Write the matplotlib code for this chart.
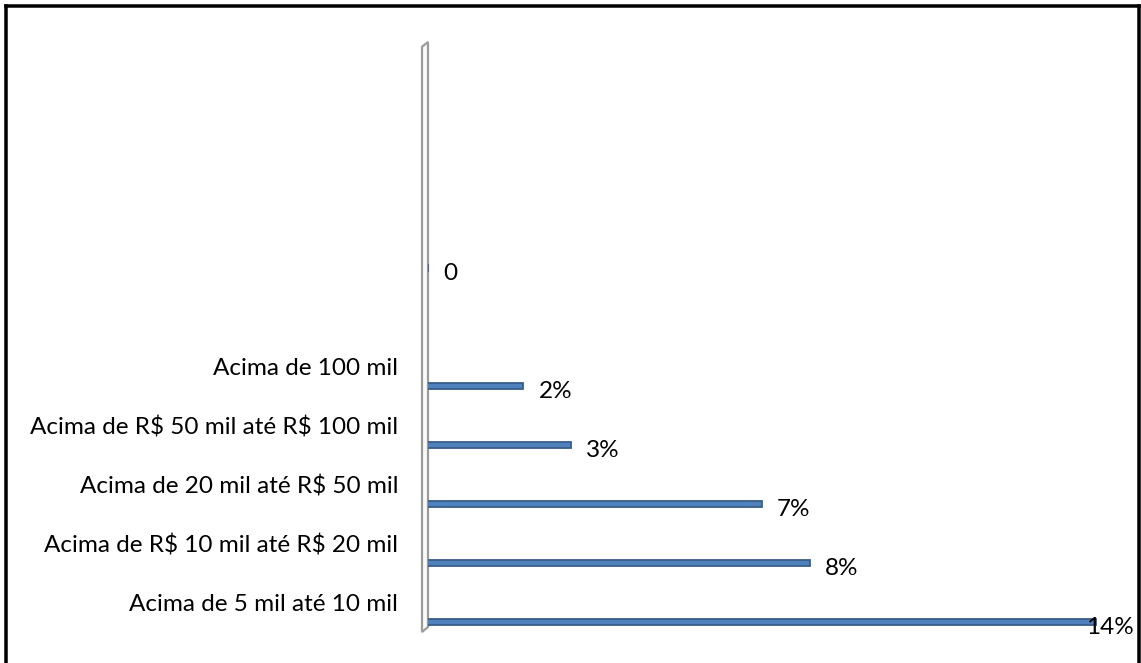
import numpy as np
import matplotlib
matplotlib.use("Agg")
import matplotlib.pyplot as plt
from matplotlib.patches import Polygon

# faixas de faturamento (de baixo para cima) e percentuais
categorias = ["Acima de 5 mil até 10 mil",
              "Acima de R$ 10 mil até R$ 20 mil",
              "Acima de 20 mil até R$ 50 mil",
              "Acima de R$ 50 mil até R$ 100 mil",
              "Acima de 100 mil",
              "",
              ""]
valores = [14, 8, 7, 3, 2, np.nan, 0]
rotulos = ["14%", "8%", "7%", "3%", "2%", "", "0"]

plt.rcParams["font.family"] = ["Lato", "DejaVu Sans"]
fs = 17.5

W, H = 1141, 663
fig = plt.figure(figsize=(W / 100, H / 100), dpi=100)

# escala: 47.7 px por ponto percentual, categorias a cada 59 px
px_x = 47.7
px_y = 59.0
x0 = 428
y0 = 622  # centro da primeira barra (pixels a partir do topo)
xmax = (1135 - x0) / px_x
ymin, ymax = -0.2, 9.85
bottom_px = y0 - ymin * px_y
top_px = y0 - ymax * px_y
ax = fig.add_axes([x0 / W, (H - bottom_px) / H, (1135 - x0) / W, (bottom_px - top_px) / H])
ax.set_xlim(0, xmax)
ax.set_ylim(ymin, ymax)
ax.axis("off")

# barras com pequena profundidade à esquerda (efeito 3D), terminando no valor
prof = 3 / px_x
pos = np.arange(len(categorias))
ax.barh(pos, np.array(valores) + prof, left=-prof, height=0.11, color="#4F81BD",
        edgecolor="#385D8A", linewidth=1.3, zorder=2)

# parede lateral do eixo
dx = 6 / px_x
wall = Polygon([(-dx, ymin + 0.03), (0, ymin + 0.115), (0, ymax - 0.02), (-dx, ymax - 0.1)],
               closed=True, facecolor="#FAFAFA", edgecolor="#9C9C9C", linewidth=1.6,
               clip_on=False, zorder=1)
ax.add_patch(wall)

for y, nome in zip(pos, categorias):
    if nome:
        ax.text(-30 / px_x, y + 0.29, nome, ha="right", va="center", fontsize=fs,
                color="black", clip_on=False, parse_math=False)

limite = (1134 - x0) / px_x
for y, v, r in zip(pos, valores, rotulos):
    if not r:
        continue
    xt = v + 15 / px_x
    if xt + 1.0 > limite:
        ax.text(limite, y - 0.1, r, ha="right", va="center", fontsize=fs, clip_on=False)
    else:
        ax.text(xt, y - 0.1, r, ha="left", va="center", fontsize=fs, clip_on=False)

# moldura (sem borda inferior)
lw = 3.5 * 72 / 100
for xs, ys in [([6 / W, 6 / W], [0, 1 - 6 / H]),
               ([6 / W, 1138.5 / W], [1 - 5.5 / H, 1 - 5.5 / H]),
               ([1138.5 / W, 1138.5 / W], [0, 1 - 6 / H])]:
    fig.add_artist(plt.Line2D(xs, ys, color="black", linewidth=lw, transform=fig.transFigure,
                              solid_capstyle="projecting"))

fig.savefig("out.png", dpi=100)
